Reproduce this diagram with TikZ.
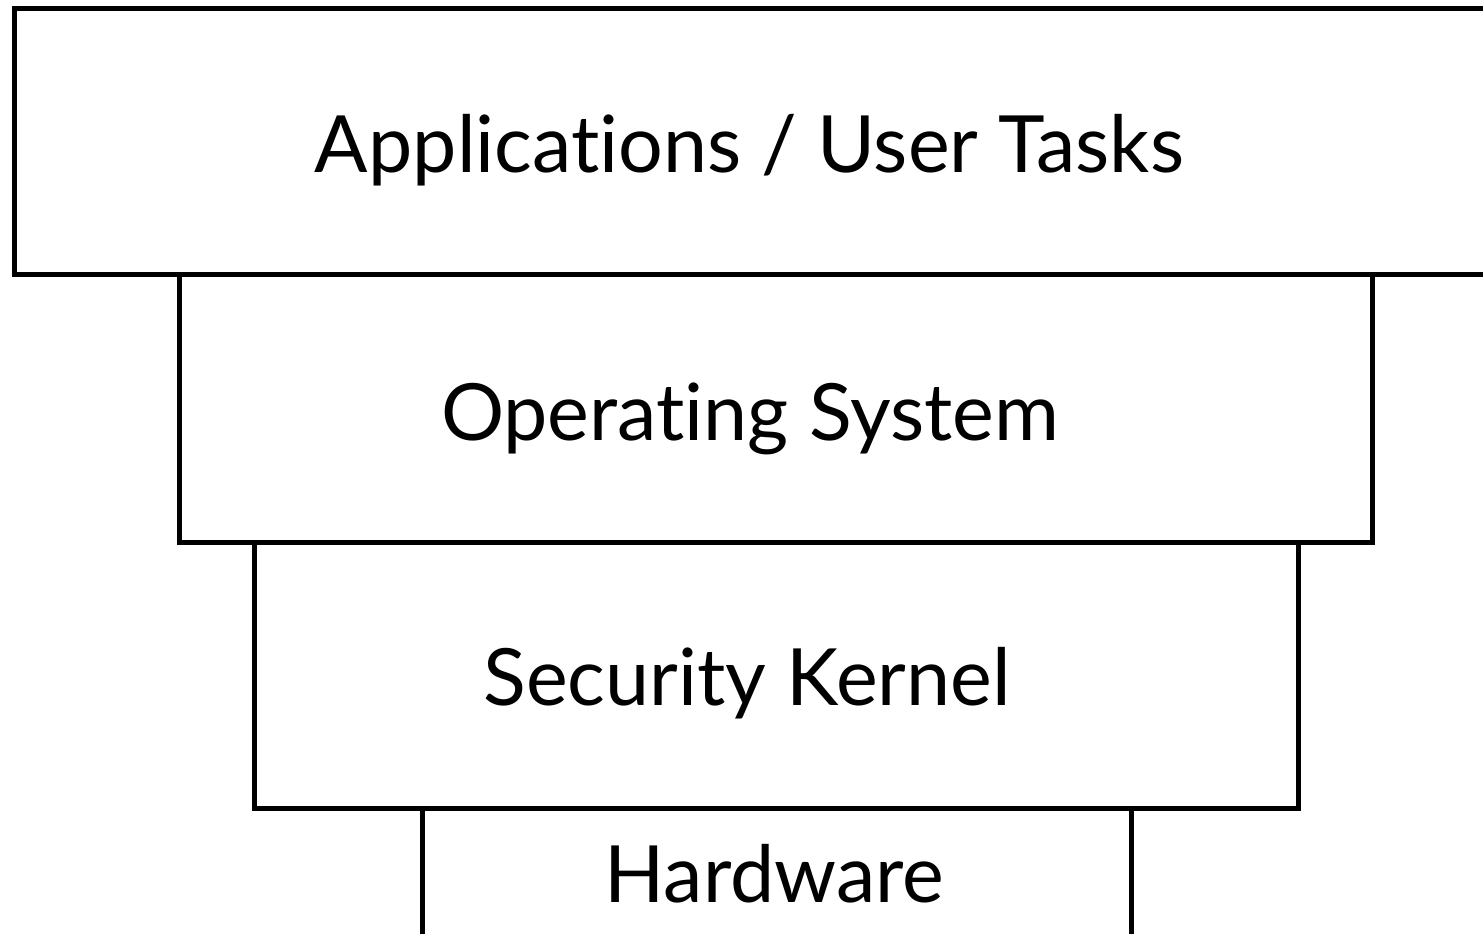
\documentclass[tikz,border=0pt]{standalone}
\usepackage{fontspec}
\setmainfont[Ligatures=NoCommon]{Lato}
\begin{document}
\begin{tikzpicture}[x=1pt,y=-1pt,
  layer/.style={draw=black,line width=5pt},
  lbl/.style={anchor=base,inner sep=0pt,font=\fontsize{79}{90}\selectfont}]
\useasboundingbox (0,0) rectangle (1483,934);
\clip (0,0) rectangle (1483,934);
\draw[layer] (14,8.5) rectangle (1510,274);
\draw[layer] (179,274) rectangle (1372,542);
\draw[layer] (254,542) rectangle (1298,808);
\draw[layer] (422,808) -- (422,960) (1131,808) -- (1131,960);
\node[lbl] (app) at (749.5,172) {Applications / User Tasks};
\node[lbl] (os) at (750,440) {Operating System};
\node[lbl] (sk) at (747,705) {Security Kernel};
\node[lbl] (hw) at (774.5,902) {Hardware};
\end{tikzpicture}
\end{document}
